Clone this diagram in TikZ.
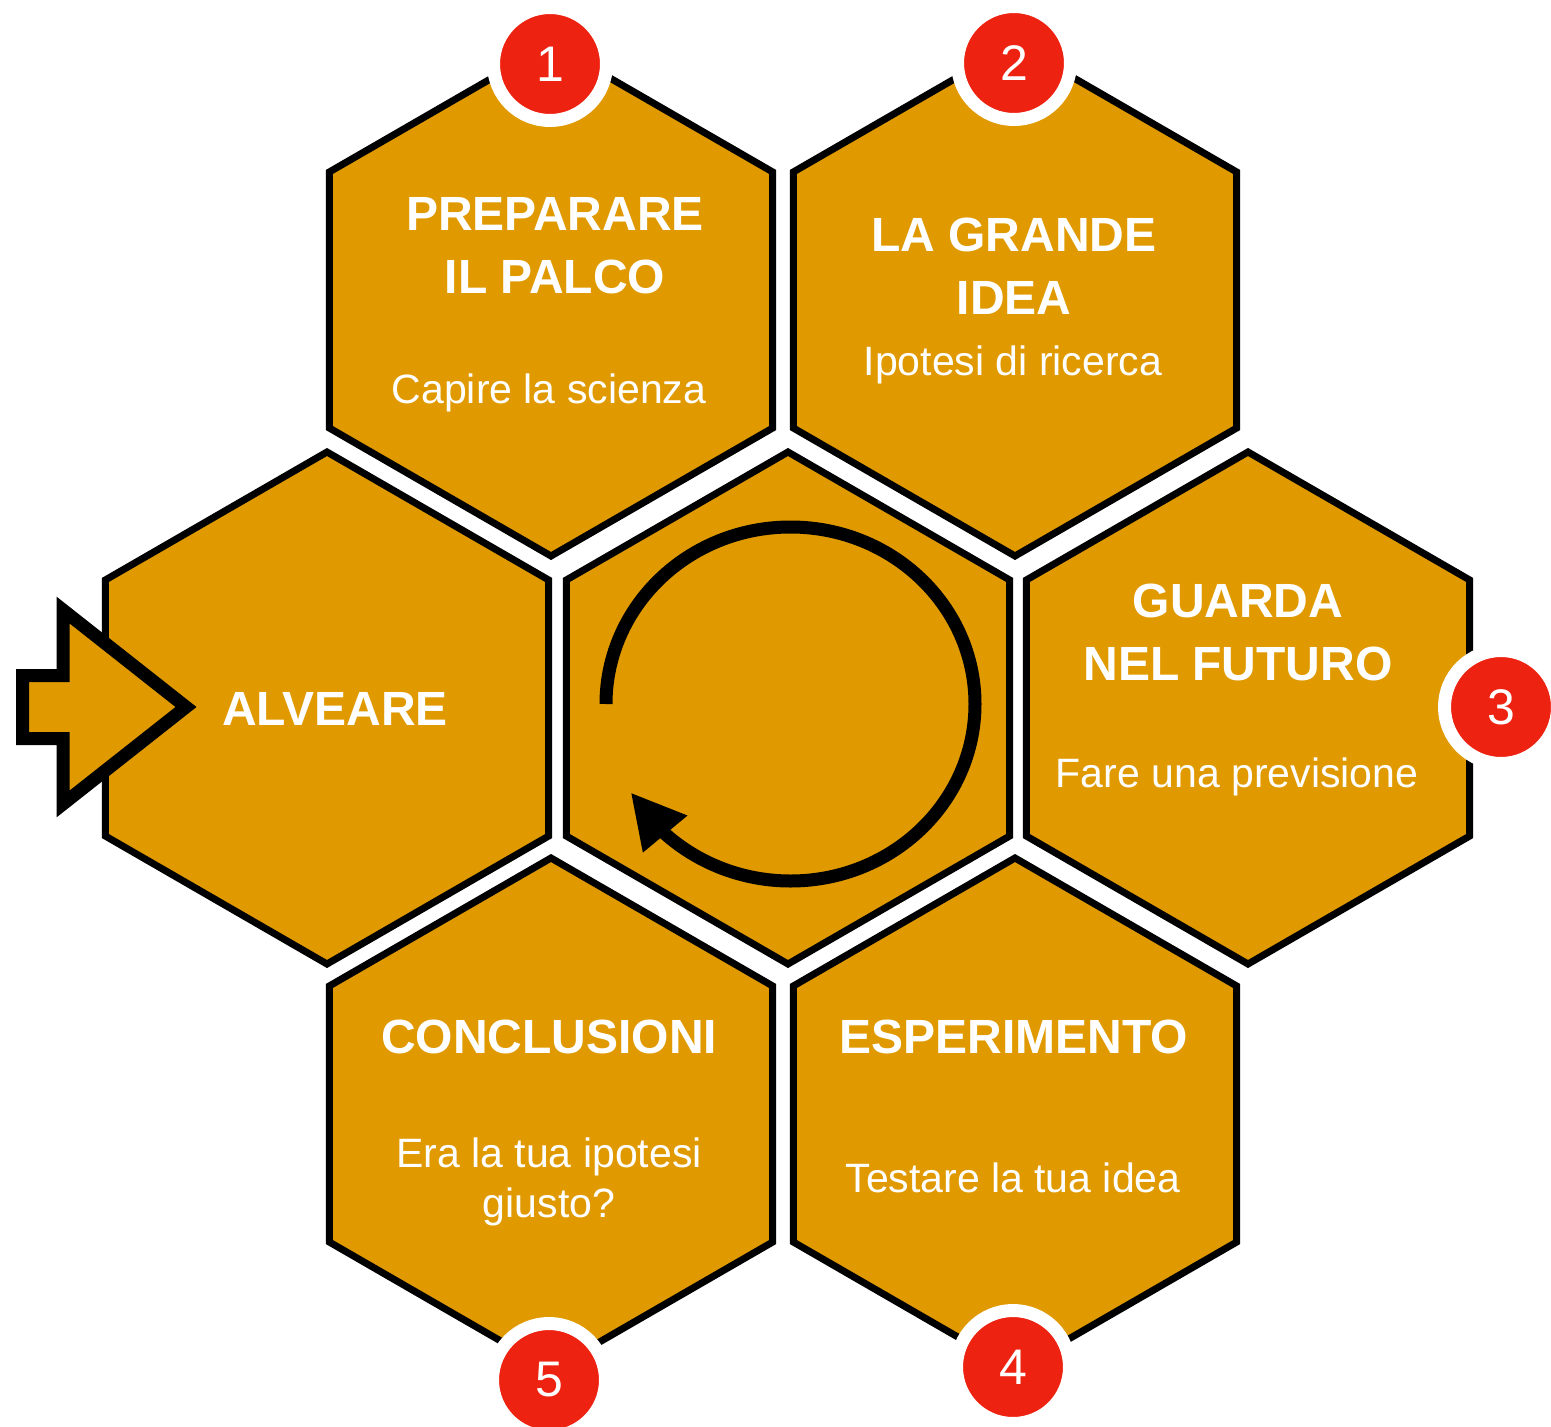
\documentclass[tikz,border=0pt]{standalone}
\usepackage{fontspec}
\setmainfont{Liberation Sans}
\usetikzlibrary{shapes.geometric,arrows.meta,bending}

\definecolor{honey}{HTML}{E09A00}
\definecolor{badge}{HTML}{EE2211}

\begin{document}
\begin{tikzpicture}[x=1pt,y=-1pt,
    hex/.style={regular polygon,regular polygon sides=6,shape border rotate=30,minimum size=512pt,inner sep=0pt,draw=black,fill=honey,line width=7pt},
    num/.style={circle,fill=badge,draw=white,line width=13pt,minimum size=113pt,inner sep=0pt,text=white,font=\fontsize{50}{50}\selectfont},
    title/.style={text=white,align=center,anchor=base,font=\bfseries\fontsize{48}{63}\selectfont},
    sub/.style={text=white,align=center,anchor=base,font=\fontsize{41}{50}\selectfont}]

    \useasboundingbox (0,0) rectangle (1551,1427);

    % honeycomb
    \node[hex] (alveare) at (327,708) {};
    \node[hex] (centro) at (788,708) {};
    \node[hex] (palco) at (551,300) {};
    \node[hex] (idea) at (1015,300) {};
    \node[hex] (futuro) at (1248,708) {};
    \node[hex] (esperimento) at (1015,1114) {};
    \node[hex] (conclusioni) at (551,1114) {};

    % cycle arrow in the middle cell
    \draw[line width=13pt,-{Triangle[length=54pt,width=54pt]}]
        (centro.center) ++(-182,-4) arc[start angle=180,end angle=510,x radius=184.5,y radius=177];

    % entry arrow
    \draw[line width=13pt,fill=honey] (22.5,675.5) -- (63,675.5) -- (63,610) -- (186,707)
        -- (63,804) -- (63,738.5) -- (22.5,738.5) -- cycle;

    % step numbers
    \node[num] (n1) at (550,64) {1};
    \node[num] (n2) at (1014,63) {2};
    \node[num] (n3) at (1501,707) {3};
    \node[num] (n4) at (1013,1367) {4};
    \node[num] (n5) at (549,1380) {5};

    % labels (base = last line)
    \node[title] (t0) at (335,725) {ALVEARE};
    \node[title] (t1) at (555,293) {PREPARARE\\IL PALCO};
    \node[sub]   (s1) at (549,403) {Capire la scienza};
    \node[title] (t2) at (1014,314) {LA GRANDE\\IDEA};
    \node[sub]   (s2) at (1013,375) {Ipotesi di ricerca};
    \node[title] (t3) at (1238,680) {GUARDA\\NEL FUTURO};
    \node[sub]   (s3) at (1237,787) {Fare una previsione};
    \node[title] (t4) at (1014,1053) {ESPERIMENTO};
    \node[sub]   (s4) at (1013,1192) {Testare la tua idea};
    \node[title] (t5) at (549,1053) {CONCLUSIONI};
    \node[sub]   (s5) at (549,1217) {Era la tua ipotesi\\giusto?};
\end{tikzpicture}
\end{document}
